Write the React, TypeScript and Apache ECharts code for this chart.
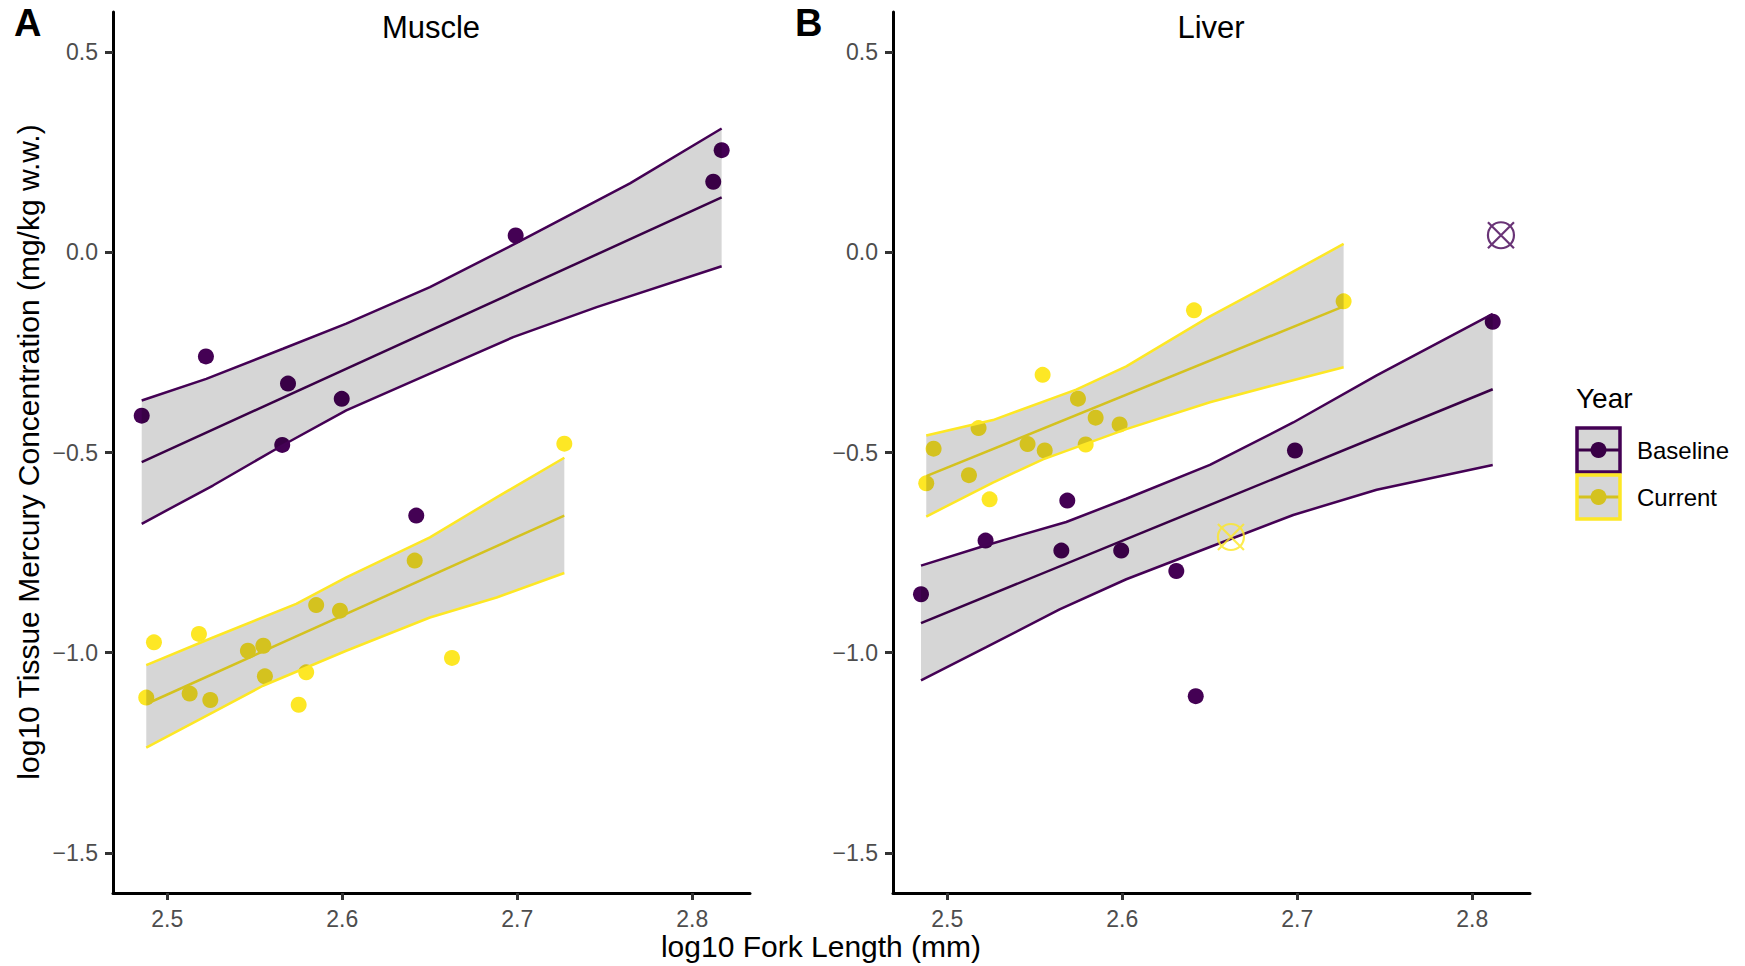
import React, { useEffect, useRef } from "react";
import * as echarts from "echarts";

const PURPLE = "#440154";
const YELLOW = "#FDE725";
const RIBBON = "rgba(0,0,0,0.16)";
const FONT = "'Liberation Sans', Arial, sans-serif";

const xTicks = [2.5, 2.6, 2.7, 2.8];
const yTicks = [-1.5, -1.0, -0.5, 0.0, 0.5];
const panelTitles = ["Muscle", "Liver"];
const panelTags = ["A", "B"];
const yearNames = ["Baseline", "Current"];

// ---- Muscle (panel A) ----
const muscleBaseline = [
  [2.4854, -0.408], [2.5221, -0.26], [2.569, -0.328], [2.5997, -0.366], [2.5657, -0.481],
  [2.6423, -0.6575], [2.6991, 0.042], [2.812, 0.176], [2.8168, 0.255],
];
const muscleCurrent = [
  [2.4924, -0.974], [2.488, -1.112], [2.5181, -0.953], [2.5128, -1.102], [2.5246, -1.118],
  [2.5461, -0.995], [2.5549, -0.9825], [2.5558, -1.059], [2.5751, -1.13], [2.5794, -1.049],
  [2.5851, -0.881], [2.5987, -0.895], [2.6414, -0.77], [2.6627, -1.013], [2.7269, -0.478],
];
const muscleBaselineFit = [[2.4854, -0.524], [2.8168, 0.137]];
const muscleBaselineUpper = [
  [2.4854, -0.37], [2.5223, -0.316], [2.5661, -0.241], [2.6023, -0.178], [2.6501, -0.087],
  [2.6991, 0.022], [2.7644, 0.172], [2.8168, 0.309],
];
const muscleBaselineLower = [
  [2.4854, -0.678], [2.5261, -0.5825], [2.5657, -0.4825], [2.6023, -0.395], [2.6501, -0.303],
  [2.6977, -0.212], [2.7454, -0.137], [2.8168, -0.035],
];
const muscleCurrentFit = [[2.488, -1.128], [2.7269, -0.6575]];
const muscleCurrentUpper = [
  [2.488, -1.031], [2.5261, -0.962], [2.5737, -0.878], [2.6023, -0.812], [2.6501, -0.712],
  [2.6882, -0.612], [2.7269, -0.513],
];
const muscleCurrentLower = [
  [2.488, -1.237], [2.5261, -1.149], [2.5547, -1.0825], [2.6023, -0.995], [2.6501, -0.912],
  [2.6882, -0.862], [2.7269, -0.801],
];

// ---- Liver (panel B) ----
const liverBaseline = [
  [2.5686, -0.62], [2.5219, -0.72], [2.5652, -0.745], [2.5994, -0.745], [2.6309, -0.796],
  [2.485, -0.854], [2.642, -1.1085], [2.6987, -0.495], [2.8117, -0.1735],
];
const liverBaselineOutlier = [[2.8164, 0.0425]];
const liverCurrent = [
  [2.641, -0.145], [2.5545, -0.306], [2.5747, -0.3655], [2.5848, -0.413], [2.5985, -0.43],
  [2.5179, -0.439], [2.4922, -0.4905], [2.5459, -0.479], [2.5557, -0.495], [2.5791, -0.48],
  [2.5124, -0.5565], [2.488, -0.577], [2.5242, -0.617], [2.7265, -0.1225],
];
const liverCurrentOutlier = [[2.6621, -0.711]];
const liverBaselineFit = [[2.485, -0.926], [2.8117, -0.342]];
const liverBaselineUpper = [
  [2.485, -0.7825], [2.5223, -0.7315], [2.568, -0.6735], [2.6023, -0.6155], [2.6501, -0.531],
  [2.6977, -0.425], [2.7454, -0.3075], [2.8117, -0.154],
];
const liverBaselineLower = [
  [2.485, -1.069], [2.5223, -0.986], [2.5642, -0.892], [2.6023, -0.8165], [2.6501, -0.736],
  [2.6977, -0.656], [2.7454, -0.593], [2.8117, -0.531],
];
const liverCurrentFit = [[2.488, -0.559], [2.7265, -0.135]];
const liverCurrentUpper = [
  [2.488, -0.4575], [2.5261, -0.419], [2.5737, -0.343], [2.6023, -0.285], [2.6501, -0.16],
  [2.6882, -0.071], [2.7265, 0.021],
];
const liverCurrentLower = [
  [2.488, -0.66], [2.5261, -0.575], [2.5547, -0.517], [2.6023, -0.4415], [2.6501, -0.3745],
  [2.6882, -0.33], [2.7265, -0.287],
];

const OUTLIER_SYMBOL =
  "path://M0,13A13,13 0 1,1 26,13A13,13 0 1,1 0,13Z M0,0L26,26 M26,0L0,26";

function fmt(v: number) {
  const s = Math.abs(v).toFixed(1);
  return v < 0 ? "\u2212" + s : s;
}

function pointsSeries(data: number[][], color: string, idx: number) {
  return {
    type: "scatter",
    xAxisIndex: idx,
    yAxisIndex: idx,
    data,
    symbol: "circle",
    symbolSize: 16,
    itemStyle: { color, opacity: 1 },
    silent: true,
    z: 2,
  };
}

function lineSeries(data: number[][], color: string, idx: number, z: number) {
  return {
    type: "line",
    xAxisIndex: idx,
    yAxisIndex: idx,
    data,
    showSymbol: false,
    symbol: "none",
    lineStyle: { color, width: 2.5 },
    silent: true,
    z,
  };
}

function ribbonSeries(upper: number[][], lower: number[][], idx: number) {
  return {
    type: "custom",
    xAxisIndex: idx,
    yAxisIndex: idx,
    data: [upper[0]],
    silent: true,
    z: 3,
    renderItem: (_params: any, api: any) => {
      const pts = upper
        .map((p) => api.coord(p))
        .concat(lower.slice().reverse().map((p) => api.coord(p)));
      return { type: "polygon", shape: { points: pts }, style: { fill: RIBBON } };
    },
  };
}

function outlierSeries(data: number[][], color: string, idx: number) {
  return {
    type: "scatter",
    xAxisIndex: idx,
    yAxisIndex: idx,
    data,
    symbol: OUTLIER_SYMBOL,
    symbolSize: 26,
    symbolKeepAspect: true,
    itemStyle: { color: "rgba(0,0,0,0)", borderColor: color, borderWidth: 2.2 },
    silent: true,
    z: 5,
  };
}

function groupSeries(
  idx: number,
  pts: number[][],
  fit: number[][],
  upper: number[][],
  lower: number[][],
  color: string
) {
  return [
    pointsSeries(pts, color, idx),
    lineSeries(fit, color, idx, 2),
    ribbonSeries(upper, lower, idx),
    lineSeries(upper, color, idx, 4),
    lineSeries(lower, color, idx, 4),
  ];
}

function makeXAxis(idx: number) {
  return {
    type: "value",
    gridIndex: idx,
    min: 2.469,
    max: 2.833,
    axisLine: { show: true, onZero: false, lineStyle: { color: "#000", width: 3 } },
    axisTick: { show: true, length: 7, customValues: xTicks, lineStyle: { color: "#333", width: 3 } },
    axisLabel: {
      customValues: xTicks,
      formatter: (v: number) => fmt(v),
      color: "#4D4D4D",
      fontSize: 23,
      fontFamily: FONT,
      margin: 14,
    },
    splitLine: { show: false },
  };
}

function makeYAxis(idx: number) {
  return {
    type: "value",
    gridIndex: idx,
    min: -1.6,
    max: 0.6,
    axisLine: { show: true, onZero: false, lineStyle: { color: "#000", width: 3 } },
    axisTick: { show: true, length: 8, customValues: yTicks, lineStyle: { color: "#333", width: 3 } },
    axisLabel: {
      customValues: yTicks,
      formatter: (v: number) => fmt(v),
      color: "#4D4D4D",
      fontSize: 23,
      fontFamily: FONT,
      margin: 15,
    },
    splitLine: { show: false },
  };
}

function legendKey(y: number, color: string) {
  const cx = 1598.5;
  const cy = y + 23;
  return [
    { type: "rect", shape: { x: 1577, y: y + 1, width: 43, height: 44 }, style: { fill: "#fff" } },
    { type: "line", shape: { x1: 1577, y1: cy, x2: 1620, y2: cy }, style: { stroke: color, lineWidth: 3 } },
    { type: "circle", shape: { cx, cy, r: 8 }, style: { fill: color } },
    {
      type: "rect",
      shape: { x: 1577, y: y + 1, width: 43, height: 44 },
      style: { fill: RIBBON, stroke: color, lineWidth: 3.5 },
    },
  ];
}

export default function App() {
  const ref = useRef<HTMLDivElement>(null);

  useEffect(() => {
    document.body.style.margin = "0";
    if (!ref.current) return;
    const chart = echarts.init(ref.current, undefined, { renderer: "svg" });

    const textStyle = (size: number, extra: any = {}) => ({
      fontSize: size,
      fontFamily: FONT,
      fill: "#000",
      ...extra,
    });

    const option: any = {
      animation: false,
      grid: [
        { left: 113, top: 12, width: 637, height: 881 },
        { left: 893, top: 12, width: 637, height: 881 },
      ],
      xAxis: [makeXAxis(0), makeXAxis(1)],
      yAxis: [makeYAxis(0), makeYAxis(1)],
      series: [
        ...groupSeries(0, muscleBaseline, muscleBaselineFit, muscleBaselineUpper, muscleBaselineLower, PURPLE),
        ...groupSeries(0, muscleCurrent, muscleCurrentFit, muscleCurrentUpper, muscleCurrentLower, YELLOW),
        ...groupSeries(1, liverBaseline, liverBaselineFit, liverBaselineUpper, liverBaselineLower, PURPLE),
        ...groupSeries(1, liverCurrent, liverCurrentFit, liverCurrentUpper, liverCurrentLower, YELLOW),
        outlierSeries(liverBaselineOutlier, PURPLE, 1),
        outlierSeries(liverCurrentOutlier, YELLOW, 1),
      ],
      graphic: [
        { type: "text", x: 14, y: 23, style: textStyle(38, { text: panelTags[0], fontWeight: "bold", align: "left", verticalAlign: "middle" }) },
        { type: "text", x: 795, y: 23, style: textStyle(38, { text: panelTags[1], fontWeight: "bold", align: "left", verticalAlign: "middle" }) },
        { type: "text", x: 431, y: 27, style: textStyle(31, { text: panelTitles[0], align: "center", verticalAlign: "middle" }) },
        { type: "text", x: 1211, y: 27, style: textStyle(31, { text: panelTitles[1], align: "center", verticalAlign: "middle" }) },
        {
          type: "text",
          x: 28,
          y: 452,
          rotation: Math.PI / 2,
          style: textStyle(30, { text: "log10 Tissue Mercury Concentration (mg/kg w.w.)", align: "center", verticalAlign: "middle" }),
        },
        { type: "text", x: 821, y: 946, style: textStyle(30, { text: "log10 Fork Length (mm)", align: "center", verticalAlign: "middle" }) },
        { type: "text", x: 1576, y: 398, style: textStyle(28, { text: "Year", align: "left", verticalAlign: "middle" }) },
        ...legendKey(427, PURPLE),
        ...legendKey(474, YELLOW),
        { type: "text", x: 1637, y: 450, style: textStyle(24, { text: yearNames[0], align: "left", verticalAlign: "middle" }) },
        { type: "text", x: 1637, y: 497, style: textStyle(24, { text: yearNames[1], align: "left", verticalAlign: "middle" }) },
      ],
    };

    chart.setOption(option);
    return () => chart.dispose();
  }, []);

  return <div ref={ref} style={{ width: 1745, height: 966 }} />;
}
